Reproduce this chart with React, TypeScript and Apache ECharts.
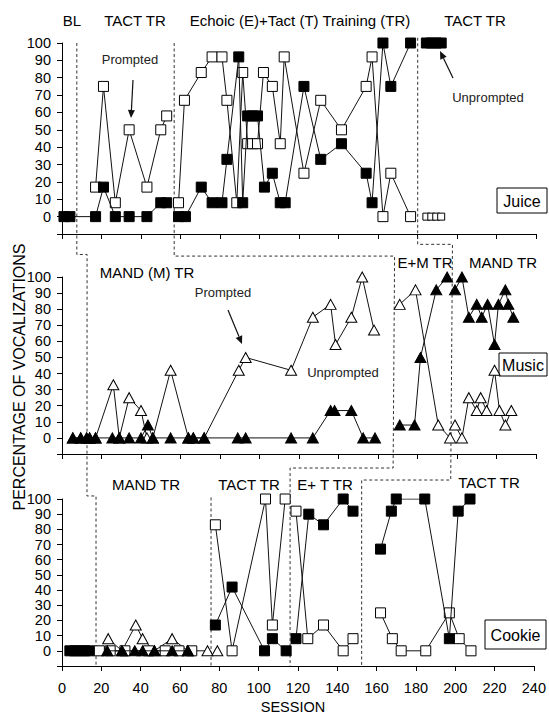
import React, { useEffect, useRef } from 'react';
import * as echarts from 'echarts';

// ---------- DATA ----------
const sessionRange = [0, 240];
const percentRange = [-10, 100];

// Juice (tact): filled = unprompted, open = prompted
const juiceUnpromptedBLTact = [[1, 0], [4, 0], [17, 0], [21, 17], [27, 0], [34, 0], [43, 0], [50, 8], [53, 8]];
const juicePromptedTact = [[17, 17], [21, 75], [27, 8], [34, 50], [43, 17], [50, 50], [53, 58]];
const juiceUnpromptedET = [[59, 0], [62.5, 0], [70.5, 17], [76, 8], [81, 8], [83.5, 33], [89.5, 92], [91.5, 8], [94, 58], [96.5, 58], [99, 58], [102.5, 17], [106.5, 25], [110.5, 8], [113, 8], [122.5, 75], [131, 33], [141.5, 42], [154, 25], [157, 8], [162.5, 100], [166.5, 75], [176.5, 100]];
const juicePromptedET = [[59, 8], [62, 67], [70.5, 83], [76, 92], [81, 92], [83.5, 67], [88.5, 8], [91.5, 83], [94, 42], [96.5, 42], [99, 42], [102, 83], [106.5, 75], [110.5, 42], [112.5, 92], [122.5, 25], [131, 67], [141.5, 50], [154, 75], [157, 92], [162.5, 0], [166.5, 25], [176.5, 0]];
const juiceUnpromptedTact2 = [[184.5, 100], [187, 100], [189.5, 100], [192, 100]];
const juicePromptedTact2 = [[184.5, 0], [187, 0], [189.5, 0], [192, 0]];

// Music (mand): filled = unprompted, open = prompted
const musicUnpromptedMand = [[5.5, 0], [9.5, 0], [12.5, 0], [14, 0], [17, 0], [25.5, 0], [29, 0], [34, 0], [40, 0], [43.5, 8], [46, 0], [55, 0], [64, 0], [66.5, 0], [72, 0], [89, 0], [93, 0], [116, 0], [127, 0], [136, 17], [138, 17], [146.5, 17], [152.5, 0], [158.5, 0]];
const musicPromptedMand = [[5.5, 0], [9.5, 0], [12.5, 0], [14, 0], [17, 0], [26, 33], [29, 0], [34, 25], [40, 17], [43, 0], [46, 0], [55, 42], [64, 0], [66.5, 0], [72, 0], [89.5, 42], [93, 50], [116, 42], [127, 75], [136, 83], [138.5, 58], [146.5, 75], [152, 100], [158, 67]];
const musicUnpromptedEM = [[171, 8], [178.5, 8], [181.5, 50], [189.5, 92], [195, 100]];
const musicPromptedEM = [[171, 83], [179, 92], [190.5, 8], [196.5, 0]];
const musicUnpromptedMand2 = [[199, 92], [202.5, 100], [206, 75], [210, 83], [212.5, 75], [215.5, 83], [219, 58], [221, 83], [224.5, 92], [226, 83], [228.5, 75]];
const musicPromptedMand2 = [[199, 8], [202.5, 0], [206, 25], [210, 17], [212, 25], [215, 17], [219, 42], [221.5, 17], [224.5, 8], [227.5, 17]];

// Cookie
const cookieTactBL = [[4, 0], [6.5, 0], [9, 0], [11.5, 0], [14, 0]];
const cookieTactProbe = [[19, 0], [24.5, 0], [32, 0], [44, 0], [52.5, 0], [59.5, 0], [66, 0]];
const cookieMandUnprompted = [[23, 0], [30.5, 0], [37, 0], [41, 0], [47, 0], [56, 0], [64, 0]];
const cookieMandPrompted = [[23.5, 8], [30.5, 0], [37.5, 17], [41, 8], [47, 0], [56, 8], [64, 0], [74, 0]];
const cookieMandPromptedLate = [[79, 0]];
const cookieUnpromptedTact = [[78, 17], [86.5, 42], [103, 0], [107, 8], [114, 0]];
const cookiePromptedTact = [[78, 83], [86.5, 0], [103.5, 100], [107, 17], [113.5, 100]];
const cookieUnpromptedET = [[119, 8], [125.5, 90], [133, 83], [143, 100], [148, 92]];
const cookiePromptedET = [[119, 92], [125, 8], [133, 17], [143, 0], [148, 8]];
const cookieUnpromptedTact2 = [[162, 67], [167.5, 92], [170, 100], [184.5, 100], [197, 8], [201.5, 92], [207.5, 100]];
const cookiePromptedTact2 = [[162, 25], [168, 8], [172.5, 0], [185, 0], [197, 25], [202, 8], [208, 0]];

// Phase change lines: [gridIndex, session, percent]
const phaseLineA = [[0, 7.5, 100], [1, 7.5, 114], [1, 12.7, 114], [2, 12.7, 102], [2, 17.3, 102], [2, 17.3, -10]];
const phaseLineB = [[0, 56.8, 100], [1, 56.8, 113], [1, 168.4, 113], [2, 168.4, 120.4], [2, 116, 120.4], [2, 116, -10]];
const phaseLineC = [[0, 180.1, 103], [1, 180.1, 120.3], [1, 197.7, 120.3], [2, 197.7, 112.5], [2, 152.4, 112.5], [2, 152.4, -10]];
const phaseLineD = [[2, 75.8, 101], [2, 75.8, -10]];

const FONT = '"Liberation Sans", Arial, sans-serif';

type Kind = 'sq' | 'osq' | 'ssq' | 'tri' | 'otri';

function mk(grid: number, data: any[], kind: Kind) {
  const filled = kind === 'sq' || kind === 'tri';
  const isTri = kind === 'tri' || kind === 'otri';
  return {
    type: 'line',
    xAxisIndex: grid,
    yAxisIndex: grid,
    data,
    symbol: isTri ? 'triangle' : 'rect',
    symbolSize: isTri ? [11, 10] : kind === 'ssq' ? 7 : 10,
    showSymbol: true,
    showAllSymbol: true,
    lineStyle: { color: '#111', width: 1 },
    itemStyle: { color: filled ? '#000' : '#fff', borderColor: '#000', borderWidth: 1 },
    z: filled ? 4 : 3,
    silent: true,
    animation: false,
  };
}

const grids = [
  { left: 62, right: 13, top: 43, height: 191 },
  { left: 62, right: 13, top: 277, height: 177 },
  { left: 62, right: 13, top: 499, height: 167 },
];

export default function App() {
  const ref = useRef<HTMLDivElement>(null);
  useEffect(() => {
    if (!ref.current) return;
    const chart = echarts.init(ref.current, null, { renderer: 'svg' });
    const xAxes = grids.map((_, i) => ({
      gridIndex: i,
      type: 'value',
      min: sessionRange[0],
      max: sessionRange[1],
      interval: 20,
      axisLine: { show: true, onZero: false, lineStyle: { color: '#000', width: 1 } },
      axisTick: { show: true, length: 5, lineStyle: { color: '#000' } },
      axisLabel: { show: i === 2, fontSize: 14.5, color: '#000', margin: 14, fontFamily: FONT },
      splitLine: { show: false },
    }));
    const yAxes = grids.map((_, i) => ({
      gridIndex: i,
      type: 'value',
      min: percentRange[0],
      max: percentRange[1],
      interval: 10,
      axisLine: { show: true, onZero: false, lineStyle: { color: '#000', width: 1 } },
      axisTick: { show: true, length: 5, lineStyle: { color: '#000' } },
      axisLabel: {
        fontSize: 14.5,
        color: '#000',
        margin: 11,
        fontFamily: FONT,
        formatter: (v: number) => (v < 0 ? '' : String(v)),
      },
      splitLine: { show: false },
    }));

    const cookieProbeData = [
      ...cookieTactBL.map((v) => ({ value: v, itemStyle: { color: '#000' } })),
      ...cookieTactProbe.map((v) => ({ value: v })),
    ];

    const series = [
      mk(0, juicePromptedTact, 'osq'),
      mk(0, juiceUnpromptedBLTact, 'sq'),
      mk(0, juicePromptedET, 'osq'),
      mk(0, juiceUnpromptedET, 'sq'),
      mk(0, juicePromptedTact2, 'ssq'),
      mk(0, juiceUnpromptedTact2, 'sq'),
      mk(1, musicPromptedMand, 'otri'),
      mk(1, musicUnpromptedMand, 'tri'),
      mk(1, musicPromptedEM, 'otri'),
      mk(1, musicUnpromptedEM, 'tri'),
      mk(1, musicPromptedMand2, 'otri'),
      mk(1, musicUnpromptedMand2, 'tri'),
      mk(2, cookieProbeData, 'osq'),
      mk(2, cookieMandPrompted, 'otri'),
      mk(2, cookieMandPromptedLate, 'otri'),
      mk(2, cookieMandUnprompted, 'tri'),
      mk(2, cookiePromptedTact, 'osq'),
      mk(2, cookieUnpromptedTact, 'sq'),
      mk(2, cookiePromptedET, 'osq'),
      mk(2, cookieUnpromptedET, 'sq'),
      mk(2, cookiePromptedTact2, 'osq'),
      mk(2, cookieUnpromptedTact2, 'sq'),
    ];

    chart.setOption({
      animation: false,
      grid: grids,
      xAxis: xAxes,
      yAxis: yAxes,
      series,
    });

    const toPx = (p: number[]) => chart.convertToPixel({ gridIndex: p[0] } as any, [p[1], p[2]]) as number[];
    const dashed = (pts: number[][]) => ({
      type: 'polyline',
      silent: true,
      z: 1,
      shape: { points: pts.map(toPx) },
      style: { stroke: '#333', lineWidth: 1, lineDash: [3, 2.5], fill: null },
    });
    const txt = (text: string, x: number, y: number, size: number, color = '#000') => ({
      type: 'text',
      x,
      y,
      silent: true,
      z: 10,
      style: { text, fill: color, font: `${size}px ${FONT}`, textAlign: 'center', verticalAlign: 'middle' },
    });
    const box = (text: string, x: number, y: number, w: number, h: number) => ({
      type: 'group',
      z: 10,
      children: [
        { type: 'rect', shape: { x, y, width: w, height: h }, style: { fill: '#fff', stroke: '#000', lineWidth: 1 } },
        { type: 'text', x: x + w / 2, y: y + h / 2 + 1, style: { text, fill: '#000', font: `16px ${FONT}`, textAlign: 'center', verticalAlign: 'middle' } },
      ],
    });
    const arrow = (x1: number, y1: number, x2: number, y2: number) => {
      const a = Math.atan2(y2 - y1, x2 - x1);
      const L = 8, W = 3.5;
      const bx = x2 - L * Math.cos(a), by = y2 - L * Math.sin(a);
      const px = -Math.sin(a) * W, py = Math.cos(a) * W;
      return [
        { type: 'line', silent: true, shape: { x1, y1, x2: bx, y2: by }, style: { stroke: '#111', lineWidth: 1.2 } },
        { type: 'polygon', silent: true, shape: { points: [[x2, y2], [bx + px, by + py], [bx - px, by - py]] }, style: { fill: '#111' } },
      ];
    };

    chart.setOption({
      graphic: [
        dashed(phaseLineA),
        dashed(phaseLineB),
        dashed(phaseLineC),
        dashed(phaseLineD),
        txt('BL', 72, 20, 15),
        txt('TACT TR', 135, 20, 15),
        txt('Echoic (E)+Tact (T) Training (TR)', 300, 20, 15),
        txt('TACT TR', 475, 20, 15),
        txt('Prompted', 130, 59, 13, '#222'),
        ...arrow(133, 80, 131, 118),
        txt('Unprompted', 488, 97, 13, '#222'),
        ...arrow(453, 78, 440, 51),
        box('Juice', 497, 188, 50, 25),
        txt('MAND (M) TR', 147, 272, 15),
        txt('Prompted', 223, 292, 13, '#222'),
        ...arrow(228, 310, 242, 344),
        txt('Unprompted', 343, 372, 13, '#222'),
        txt('E+M TR', 425, 262, 15),
        txt('MAND TR', 503, 262, 15),
        box('Music', 499, 353, 48, 23),
        txt('MAND TR', 146, 484, 15),
        txt('TACT TR', 249, 484, 15),
        txt('E+ T TR', 325, 484, 15),
        txt('TACT TR', 489, 482, 15),
        box('Cookie', 485, 620, 61, 29),
        txt('SESSION', 293, 707, 14.5),
        {
          type: 'text',
          x: 19,
          y: 377,
          rotation: Math.PI / 2,
          silent: true,
          style: { text: 'PERCENTAGE OF VOCALIZATIONS', fill: '#000', font: `16px ${FONT}`, textAlign: 'center', verticalAlign: 'middle' },
        },
      ],
    });

    return () => chart.dispose();
  }, []);
  return <div ref={ref} style={{ position: 'fixed', left: 0, top: 0, width: 549, height: 715, background: '#fff' }} />;
}
